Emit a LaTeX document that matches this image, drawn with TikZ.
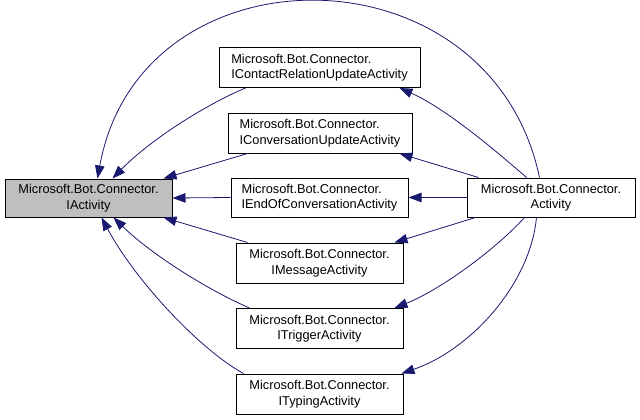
\documentclass[tikz,border=0pt]{standalone}
\usepackage{fontspec}
\setmainfont{Liberation Sans}
\usetikzlibrary{arrows.meta}
\definecolor{edgeblue}{RGB}{25,25,112}
\definecolor{boxgray}{RGB}{191,191,191}
\begin{document}
\begin{tikzpicture}[x=1pt,y=-1pt,
  cls/.style={draw=black, line width=1pt, fill=white, inner sep=0pt,
    font=\fontsize{12.8}{15.5}\selectfont, align=center},
  clsl/.style={cls, align=left},
  edge/.style={draw=edgeblue, line width=0.8pt, -{Triangle[length=13pt,width=9.5pt]}},
]
\useasboundingbox (0,0) rectangle (640,420);
\node[cls, fill=boxgray, minimum width=167pt, minimum height=38pt] (ia) at (88.5,198) {Microsoft.Bot.Connector.\\IActivity};
\node[cls, minimum width=168pt, minimum height=39pt] (act) at (551,197.5) {Microsoft.Bot.Connector.\\Activity};
\node[clsl, minimum width=177pt, minimum height=39pt] (ieoc) at (319.5,197.5) {Microsoft.Bot.Connector.\\IEndOfConversationActivity};
\node[clsl, minimum width=201pt, minimum height=40pt] (icrua) at (319.5,67.5) {Microsoft.Bot.Connector.\\IContactRelationUpdateActivity};
\node[clsl, minimum width=184pt, minimum height=40pt] (icua) at (320,133) {Microsoft.Bot.Connector.\\IConversationUpdateActivity};
\node[cls, minimum width=167pt, minimum height=40pt] (imsg) at (319.5,263) {Microsoft.Bot.Connector.\\IMessageActivity};
\node[cls, minimum width=167pt, minimum height=40pt] (itrig) at (319.5,328.5) {Microsoft.Bot.Connector.\\ITriggerActivity};
\node[cls, minimum width=167pt, minimum height=40pt] (ityp) at (319.5,394) {Microsoft.Bot.Connector.\\ITypingActivity};

% edges to IActivity
\draw[edge] ([xshift=73pt]act.north west) .. controls (490,-57) and (140,-57) .. ([xshift=93pt]ia.north west);
\draw[edge] ([xshift=27pt]icrua.south west) .. controls (205,105) and (150,140) .. ([xshift=108pt]ia.north west);
\draw[edge] ([xshift=20pt]icua.south west) -- ([xshift=159pt]ia.north west);
\draw[edge] (ieoc.west) -- (ia.east);
\draw[edge] ([xshift=12pt]imsg.north west) -- ([xshift=159pt]ia.south west);
\draw[edge] ([xshift=14pt]itrig.north west) .. controls (208,290) and (152,255) .. ([xshift=109pt]ia.south west);
\draw[edge] ([xshift=8pt]ityp.north west) .. controls (199,349) and (135,280) .. ([xshift=97pt]ia.south west);

% edges from Activity
\draw[edge] ([xshift=60pt]act.north west) .. controls (495,150) and (445,108) .. ([xshift=181pt]icrua.south west);
\draw[edge] ([xshift=12pt]act.north west) -- ([xshift=172pt]icua.south west);
\draw[edge] (act.west) -- (ieoc.east);
\draw[edge] ([xshift=9pt]act.south west) -- ([xshift=159pt]imsg.north west);
\draw[edge] ([xshift=58pt]act.south west) .. controls (495,250) and (440,290) .. ([xshift=159pt]itrig.north west);
\draw[edge] ([xshift=70pt]act.south west) .. controls (530,285) and (470,350) .. ([xshift=166pt]ityp.north west);
\end{tikzpicture}
\end{document}
